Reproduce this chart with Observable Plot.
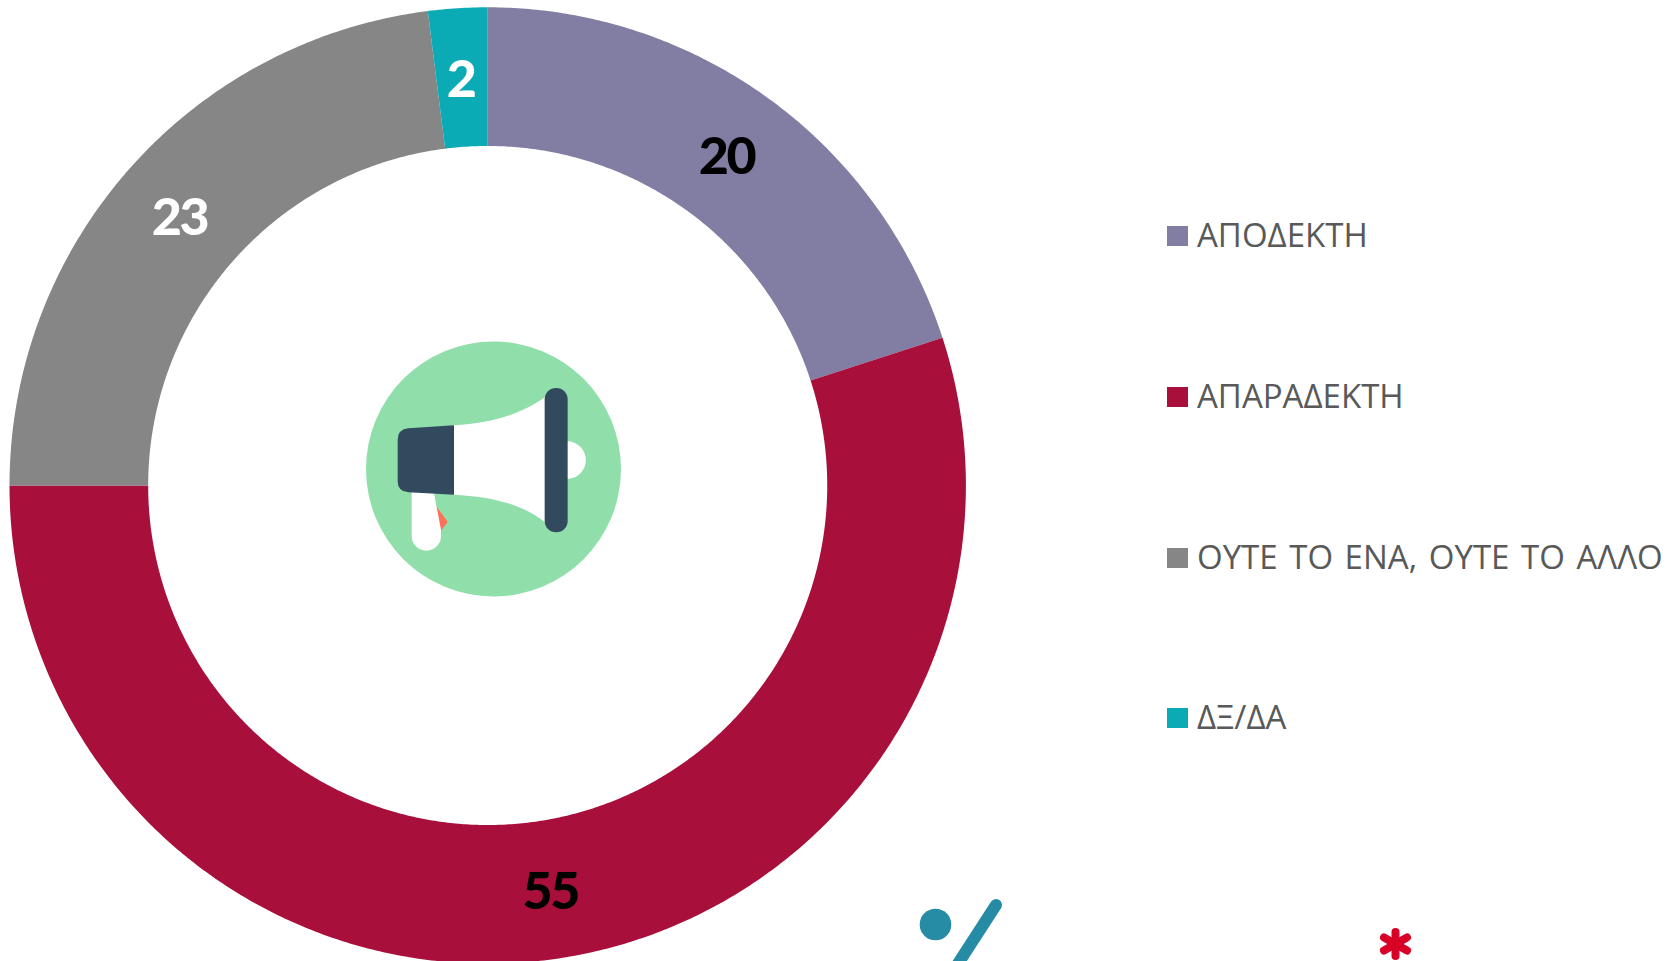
<!DOCTYPE html>
<html lang="el">
<head>
<meta charset="utf-8">
<title>Donut</title>
<script src="https://cdn.jsdelivr.net/npm/d3@7"></script>
<script src="https://cdn.jsdelivr.net/npm/@observablehq/plot@0.6"></script>
<style>
html,body{margin:0;padding:0;background:#fff;overflow:hidden;width:1679px;height:961px}
#stage{position:relative;width:1679px;height:961px;overflow:hidden}
#stage svg{position:absolute;left:0;top:0}
.lg{position:absolute;left:1167px;display:flex;align-items:center;height:40px;margin-top:-20px;font:33px "Open Sans",sans-serif;font-kerning:none;word-spacing:3px;color:#595959;white-space:nowrap}
.lg i{display:block;width:21px;height:20px;margin-right:9px;position:relative}
.lg span{position:relative;top:-1.5px}
</style>
</head>
<body>
<div id="stage"></div>
<script>
const categories = ["ΑΠΟΔΕΚΤΗ", "ΑΠΑΡΑΔΕΚΤΗ", "ΟΥΤΕ ΤΟ ΕΝΑ, ΟΥΤΕ ΤΟ ΑΛΛΟ", "ΔΞ/ΔΑ"];
const values = [20, 55, 23, 2];
const colors = ["#827EA3", "#A80F3B", "#868686", "#0BABB6"];
const labelColors = ["#000000", "#000000", "#ffffff", "#ffffff"];

const W = 1679, H = 961, cx = 487.2, cy = 485, R = 478.2, hole = 0.71;
const total = d3.sum(values);
const pt = (share, r) => {
  const a = 2 * Math.PI * share / total;
  return {x: r * Math.sin(a), y: r * Math.cos(a)};
};

let run = 0;
const ring = [], labels = [];
categories.forEach((name, i) => {
  const start = run, end = run + values[i];
  const n = Math.ceil(values[i] * 8);
  for (let k = 0; k <= n; k++) ring.push({name, ...pt(start + (end - start) * k / n, 1)});
  for (let k = n; k >= 0; k--) ring.push({name, ...pt(start + (end - start) * k / n, hole)});
  labels.push({value: values[i], color: labelColors[i], ...pt((start + end) / 2, (1 + hole) / 2)});
  run = end;
});

const plot = Plot.plot({
  width: W, height: H, margin: 0,
  style: {background: "transparent"},
  x: {axis: null, domain: [-cx / R, (W - cx) / R], range: [0, W]},
  y: {axis: null, domain: [cy / R, (cy - H) / R], range: [0, H]},
  color: {domain: categories, range: colors},
  marks: [
    Plot.line(ring, {x: "x", y: "y", z: "name", fill: "name", stroke: "none", curve: "linear-closed"}),
    Plot.text(labels, {
      x: "x", y: "y", dx: -1.5, dy: 3, text: d => String(d.value),
      fill: {value: d => d.color, scale: null},
      fontFamily: "Lato, sans-serif", fontWeight: 900, fontSize: 52
    })
  ]
});
plot.querySelectorAll("text").forEach(t => { t.style.letterSpacing = "-2.5px"; });
const stage = document.getElementById("stage");
stage.appendChild(plot);

categories.forEach((name, i) => {
  const row = document.createElement("div");
  row.className = "lg";
  row.style.top = (236 + 160.8 * i) + "px";
  const sw = document.createElement("i");
  sw.style.background = colors[i];
  row.appendChild(sw);
  const label = document.createElement("span");
  label.textContent = name;
  row.appendChild(label);
  stage.appendChild(row);
});

// Decorative icon and page fragments
const deco = document.createElementNS("http://www.w3.org/2000/svg", "svg");
deco.setAttribute("width", W);
deco.setAttribute("height", H);
deco.innerHTML = `
  <circle cx="493.5" cy="469" r="127.5" fill="#90DFAA"/>
  <g transform="translate(340,320) scale(0.33333)">
    <path d="M288,558 L323,605 L303,632 Z" fill="#FF7058"/>
    <path d="M215,510 L215,648 A44,44 0 0 0 303,648 L303,630 L280,510 Z" fill="#fff"/>
    <circle cx="681" cy="420.5" r="56.5" fill="#fff"/>
    <path d="M340,316 C470,310 560,272 616,230 L616,608 C560,560 470,530 340,524 Z" fill="#fff"/>
    <path d="M342,316 L205,325 Q173,328 173,360 L173,483 Q173,515 205,517 L342,524 Z" fill="#324A5E"/>
    <rect x="614" y="204" width="69" height="433" rx="34" fill="#324A5E"/>
  </g>
  <circle cx="935.5" cy="924.5" r="15.8" fill="#268CA5"/>
  <line x1="996" y1="905" x2="950" y2="976" stroke="#268CA5" stroke-width="12" stroke-linecap="round"/>
  <g stroke="#D80027" stroke-width="8" stroke-linecap="round" transform="translate(1395.5,944)">
    <line x1="0" y1="-12" x2="0" y2="12"/>
    <line x1="-11.5" y1="-6.5" x2="11.5" y2="6.5"/>
    <line x1="-11.5" y1="6.5" x2="11.5" y2="-6.5"/>
  </g>`;
stage.appendChild(deco);
</script>
</body>
</html>
